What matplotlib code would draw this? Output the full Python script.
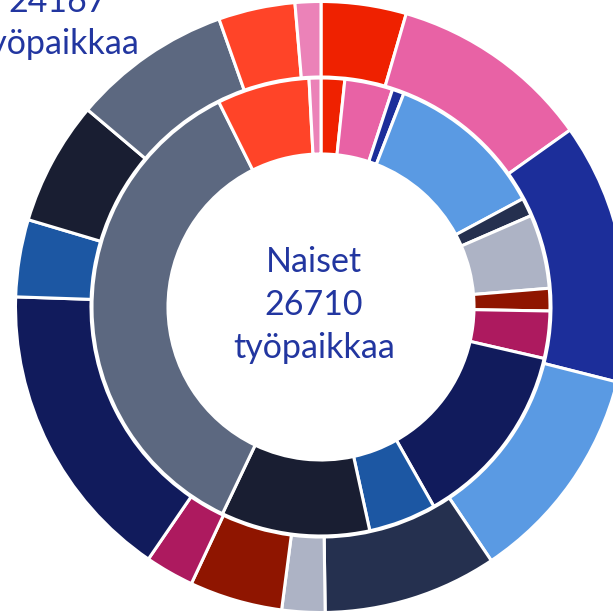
import matplotlib
matplotlib.use("Agg")
import matplotlib.pyplot as plt

# Categories (industries), same order in both rings, clockwise from 12 o'clock
categories = ["A", "B", "C", "D", "E", "F", "G", "H", "I", "J", "K", "L", "M", "N"]
colors = ["#EF2100", "#E862A5", "#1C2E9A", "#5A9AE3", "#25304F", "#ADB3C5",
          "#8F1500", "#AD1A5F", "#111B5C", "#1C57A3", "#191E32", "#5C6880",
          "#FF4428", "#EB82B8"]

# Outer ring (24167 työpaikkaa)
outer_values = [1088, 2578, 3330, 2813, 2222, 550, 1188, 624, 3860, 987, 1584, 2034, 980, 329]
# Inner ring: Naiset (26710 työpaikkaa)
inner_values = [445, 905, 223, 3012, 349, 1395, 423, 890, 3524, 1276, 2804, 9498, 1743, 223]

center_label = ["Naiset", "26710", "työpaikkaa"]
side_label = ["24167", "työpaikkaa"]

W = H = 613
fig = plt.figure(figsize=(W / 100, H / 100), dpi=100)
ax = fig.add_axes([0, 0, 1, 1])

cx, cy = 321, H - 307
R_out, R_mid, R_in = 305.5, 229.0, 153.0
gap = 1.0
wp = dict(edgecolor="white", linewidth=2.2)

ax.pie(outer_values, radius=R_out, center=(cx, cy), startangle=90, counterclock=False,
       colors=colors, wedgeprops=dict(width=R_out - R_mid - gap, **wp))
ax.pie(inner_values, radius=R_mid, center=(cx, cy), startangle=90, counterclock=False,
       colors=colors, wedgeprops=dict(width=R_mid - R_in, **wp))

ax.set_xlim(0, W)
ax.set_ylim(0, H)
ax.set_aspect("equal")
ax.axis("off")

txt_color = "#2236A0"
font = dict(family=["Lato", "DejaVu Sans"], fontsize=24.5, color=txt_color, ha="center", va="baseline")
for i, line in enumerate(center_label):
    ax.text(314, H - (272 + 43 * i), line, **font)
for i, line in enumerate(side_label):
    ax.text(58, H - (12 + 42 * i), line, **font)

fig.savefig("out.png", dpi=100)
